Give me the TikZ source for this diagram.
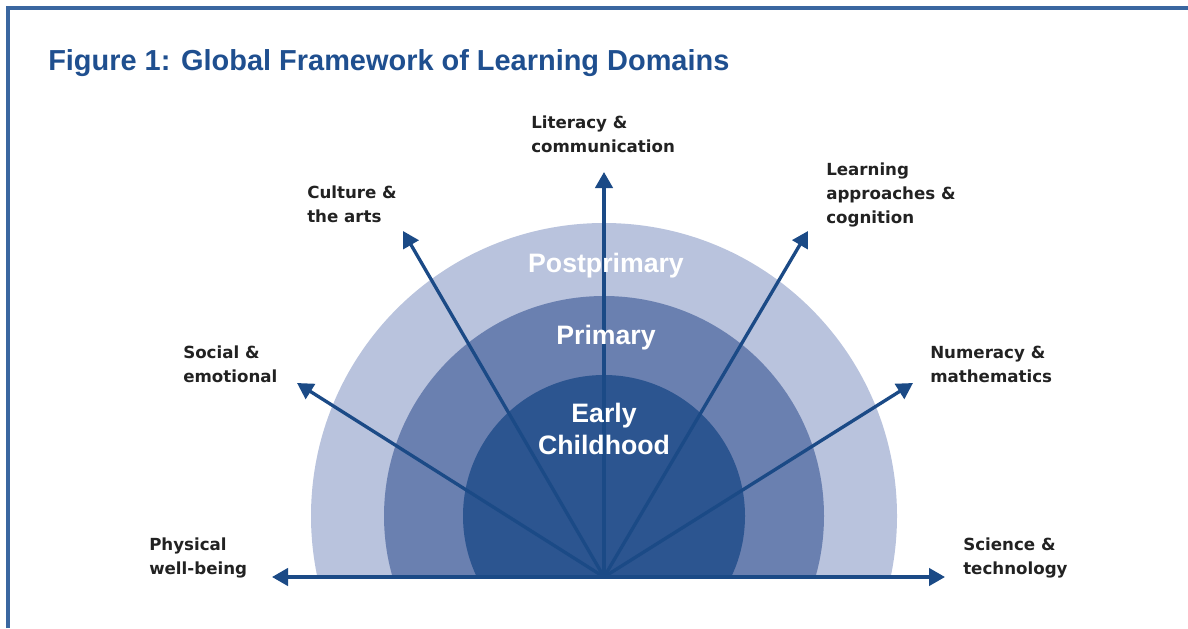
\documentclass[tikz,border=0pt]{standalone}
\usepackage{fontspec}
\setmainfont{Liberation Sans}
\newfontfamily\widesans{DejaVu Sans}
\usepackage{xcolor}
\usetikzlibrary{arrows.meta}

\definecolor{frameblue}{HTML}{3A67A0}
\definecolor{titleblue}{HTML}{1F4F8F}
\definecolor{arrowblue}{HTML}{1B4A86}
\definecolor{ringouter}{HTML}{B9C3DD}
\definecolor{ringmid}{HTML}{6A80B0}
\definecolor{ringinner}{HTML}{2C5590}
\definecolor{labeltext}{HTML}{222222}

\tikzset{
	domainarrow/.style={-{Triangle[length=12pt,width=13pt]}, draw=arrowblue, line width=2.5pt},
	domainlabel/.style={anchor=north west, inner sep=0pt, align=left, text=labeltext, font=\widesans\fontsize{12.5}{18}\selectfont\bfseries},
	stagelabel/.style={text=white, inner sep=0pt, align=center, font=\fontsize{20}{24}\selectfont\bfseries}
}

\begin{document}
\begin{tikzpicture}[x=0.75pt,y=-0.75pt]
		\useasboundingbox (0,0) rectangle (1188,628);
		
		\coordinate (O) at (604,577);
		\coordinate (M) at (604,516);
		
		%Frame
		\draw[frameblue, line width=2.6pt] (8,628) -- (8,8) -- (1188,8);
		
		\node[anchor=base west, inner sep=0pt, text=titleblue, font=\fontsize{21.7}{26}\selectfont\bfseries] (title) at (48,70) {Figure 1: Global Framework of Learning Domains};
		
		%Rings
		\begin{scope}
			\clip (0,0) rectangle (1188,577);
			\fill[ringouter] (M) circle (293);
			\fill[ringmid] (M) circle (220);
			\fill[ringinner] (M) circle (141);
		\end{scope}
		
		%Arrow tips
		\coordinate (tipPhys) at (272,577);
		\coordinate (tipSoc) at (297,383);
		\coordinate (tipCul) at (403,231);
		\coordinate (tipLit) at (604,172);
		\coordinate (tipLea) at (808,231);
		\coordinate (tipNum) at (913,383);
		\coordinate (tipSci) at (945,577);
		
		\draw[domainarrow] (O) -- (tipPhys);
		\draw[domainarrow] (O) -- (tipSoc);
		\draw[domainarrow] (O) -- (tipCul);
		\draw[domainarrow] (O) -- (tipLit);
		\draw[domainarrow] (O) -- (tipLea);
		\draw[domainarrow] (O) -- (tipNum);
		\draw[domainarrow] (O) -- (tipSci);
		
		%Stages
		\node[stagelabel, anchor=base] (post) at (606,272) {Postprimary};
		\node[stagelabel, anchor=base] (prim) at (606,344) {Primary};
		\node[stagelabel] (early) at (604,429) {Early\\Childhood};
		
		%Domains
		\node[domainlabel] (lit) at (531,116) {Literacy \&\\communication};
		\node[domainlabel] (cul) at (307,186) {Culture \&\\the arts};
		\node[domainlabel] (lea) at (826,163) {Learning\\approaches \&\\cognition};
		\node[domainlabel] (soc) at (183,346) {Social \&\\emotional};
		\node[domainlabel] (num) at (930,346) {Numeracy \&\\mathematics};
		\node[domainlabel] (phys) at (149,538) {Physical\\well-being};
		\node[domainlabel] (sci) at (963,538) {Science \&\\technology};
		
\end{tikzpicture}
\end{document}
